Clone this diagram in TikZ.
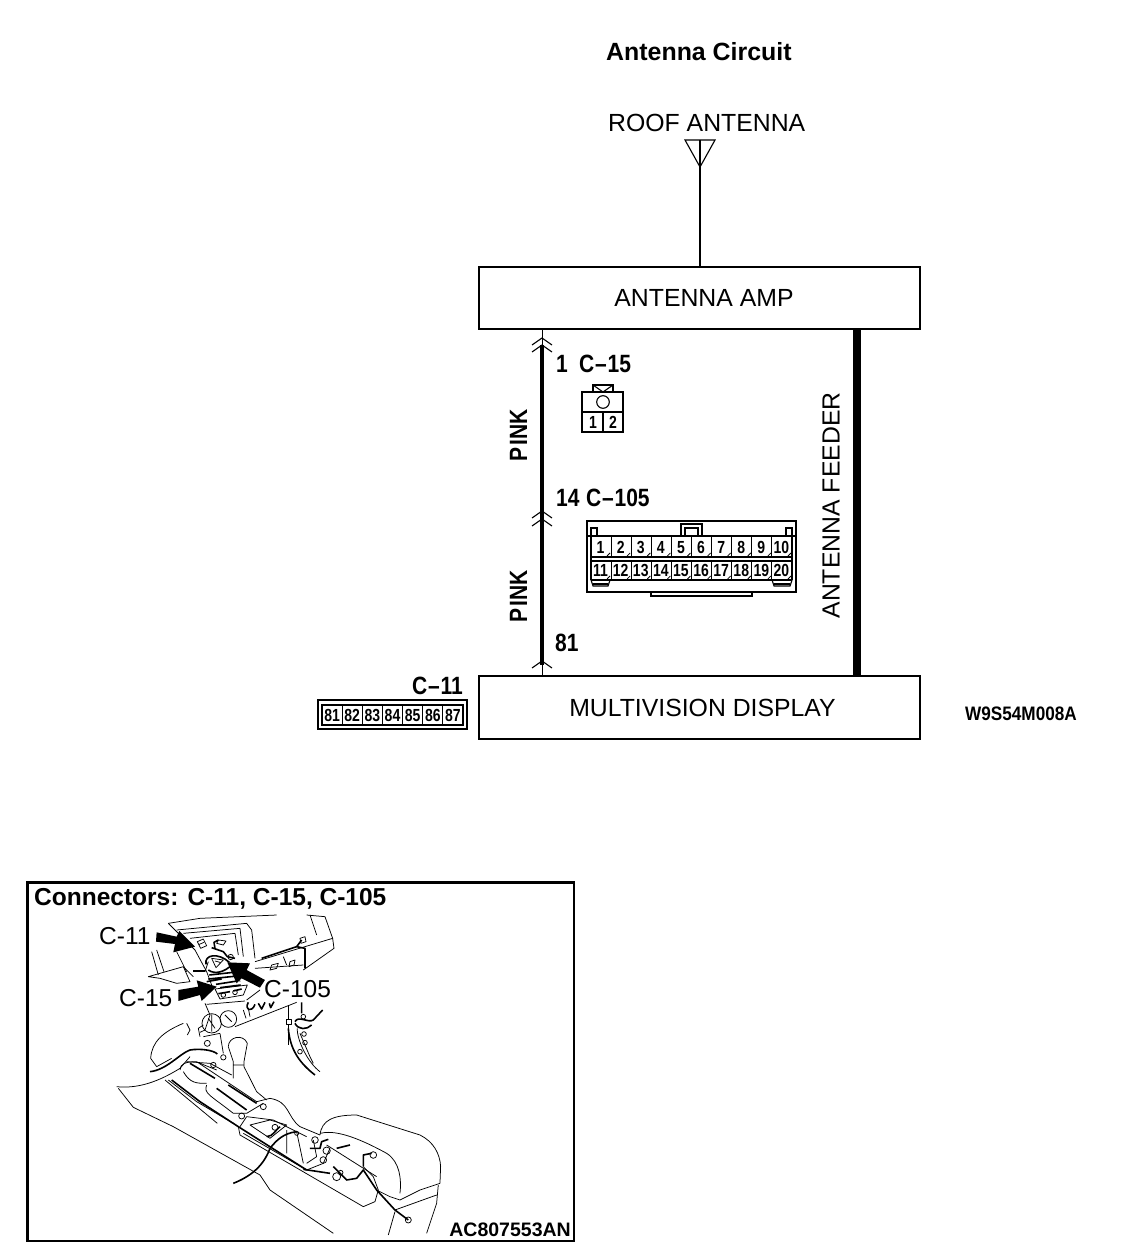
\documentclass[tikz,border=0pt]{standalone}
\usepackage{fontspec}
\setmainfont{Liberation Sans}
\newfontfamily\nf[FakeStretch=0.8]{Liberation Sans Bold}
\newfontfamily\lf[FakeStretch=0.84]{Liberation Sans Bold}
\newfontfamily\cf[FakeStretch=0.88]{Liberation Sans Bold}
\newcommand{\dsh}{\hspace{.8pt}–\hspace{.8pt}}
\tikzset{
  box/.style={draw,line width=1.2pt,fill=white,inner sep=0pt},
  plaintxt/.style={inner sep=0pt,font=\fontsize{24.8}{25}\selectfont},
  lab/.style={inner sep=0pt,anchor=base west,font=\fontsize{25}{25}\selectfont\lf},
  plain/.style={inner sep=0pt,anchor=base west,font=\fontsize{24.8}{25}\selectfont},
  pin/.style={inner sep=0pt,anchor=base,font=\fontsize{17.5}{17.5}\selectfont\nf},
  ttl/.style={inner sep=0pt,anchor=base west,font=\fontsize{24.5}{24.5}\selectfont\bfseries},
  cal/.style={inner sep=0pt,anchor=base west,font=\fontsize{24.5}{24.5}\selectfont},
  sk/.style={line width=.75pt,line join=round},
  skb/.style={line width=1.6pt,line join=round},
  chev/.style={line width=1.1pt},
  conn/.style={line width=1.1pt}
}
\begin{document}
\begin{tikzpicture}[x=1pt,y=-1pt]
\useasboundingbox (0,0) rectangle (1136,1260);
\fill[white] (0,0) rectangle (1136,1260);
% titles
\node[ttl] (title) at (606,61) {\fontsize{24.9}{24.9}\selectfont Antenna Circuit};
\node[plain] (roof) at (608,132) {ROOF ANTENNA};
% boxes
\node[box,minimum width=441pt,minimum height=62pt] (amp) at (699.5,298) {};
\node[plaintxt] (amptxt) at (704,298) {ANTENNA AMP};
\node[box,minimum width=441pt,minimum height=63pt] (disp) at (699.5,707.5) {};
\node[plaintxt] (disptxt) at (702.5,708) {MULTIVISION DISPLAY};
% antenna
\coordinate (apex) at (700,167);
\coordinate (ampin) at (700,267);
\draw[line width=1.1pt] (685,140) -- (715,140) -- (apex) -- cycle;
\draw[line width=1.2pt] (700,140) -- (apex) -- (ampin);
% wires
\coordinate (pinkT) at (542,329);
\coordinate (pinkA) at (542,345);
\coordinate (pinkB) at (542,665);
\coordinate (pinkD) at (542,676);
\coordinate (feedT) at (857,329);
\coordinate (feedD) at (857,676);
\draw[line width=1pt] (pinkT) -- (pinkD);
\draw[line width=4pt] (pinkA) -- (pinkB);
\draw[line width=8pt] (feedT) -- (feedD);
\foreach \y in {345,352,518,526,668}{
  \draw[chev] (532,\y) -- (542,\y-7) -- (552,\y);
}
% labels
\node[lab] (n1) at (556,372) {1};
\node[lab] (c15) at (579,372) {C\dsh 15};
\node[lab] (n14) at (556,506) {14};
\node[lab] (c105) at (586,506) {C\dsh 105};
\node[lab] (n81) at (555,651) {81};
\node[lab] (c11) at (412,694) {C\dsh 11};
\node[lab,rotate=90] (pink1) at (527,462) {P\hspace{2pt}INK};
\node[lab,rotate=90] (pink2) at (527,623) {P\hspace{2pt}INK};
\node[plaintxt,rotate=90] (feeder) at (831,505.5) {ANTENNA FEEDER};
\node[inner sep=0pt,anchor=base west,font=\fontsize{19.5}{19.5}\selectfont\cf] (code) at (965,720) {W9S54M008A};
% C-15 connector
\draw[conn] (593,392) -- (593,385) -- (613,385) -- (613,392);
\draw[conn] (593,385) -- (603,392) -- (613,385);
\draw[line width=1.3pt] (582,392) rectangle (623,432);
\draw[conn] (582,412) -- (623,412) (603,412) -- (603,432);
\draw[conn] (603,402) circle (6.3);
\node[pin] (p151) at (593,428.5) {1};
\node[pin] (p152) at (613,428.5) {2};
% C-105 connector
\draw[conn] (587,521) rectangle (796,592);
\draw[conn] (651,592) -- (651,596) -- (752,596) -- (752,592);
\draw[conn] (681,536) -- (681,524) -- (702,524) -- (702,536) (685,536) -- (685,528) -- (698,528) -- (698,536);
\draw[conn] (591,536) rectangle (597,528) (786,536) rectangle (792,528);
\draw[conn] (587,536) -- (796,536);
\draw[conn] (591,536) -- (591,580) (792,536) -- (792,580);
\draw[conn] (591,557) -- (792,557);
\draw[conn] (591,561) -- (792,561);
\draw[conn] (591,580) -- (792,580);
\draw[conn] (591,580) -- (593,586) -- (608,586) -- (610,580);
\draw[conn] (772,580) -- (774,586) -- (790,586) -- (792,580);
\draw[line width=2pt] (593,584) -- (608,584) (774,584) -- (790,584);
\foreach \i in {1,...,9}{
  \pgfmathsetmacro\xx{591+20.1*\i}
  \draw[conn] (\xx,536) -- (\xx,557) (\xx,561) -- (\xx,580);
}
\foreach \i in {1,...,10}{
  \pgfmathsetmacro\xx{591+20.1*(\i-0.5)}
  \pgfmathtruncatemacro\jj{\i+10}
  \node[pin] (ra\i) at (\xx-.5,553) {\i};
  \node[pin] (rb\i) at (\xx-.5,576) {\jj};
  \draw[line width=.8pt] (\xx+6,556) -- (\xx+9,553) (\xx+6,579) -- (\xx+9,576);
}
% C-11 connector
\draw[conn] (318,700) rectangle (467,729);
\draw[conn] (322,705) rectangle (463,725);
\foreach \i in {1,...,6}{
  \pgfmathsetmacro\xx{322+20.15*\i}
  \draw[conn] (\xx,705) -- (\xx,725);
}
\foreach \i/\t in {1/81,2/82,3/83,4/84,5/85,6/86,7/87}{
  \pgfmathsetmacro\xx{322+20.15*(\i-0.5)}
  \node[pin] (s\i) at (\xx,721.5) {\t};
}
% illustration frame
\draw[line width=2.6pt] (27.5,882.5) rectangle (574,1241);
\node[ttl] (captitle) at (34,905) {Connectors: C-11, C-15, C-105};
\node[inner sep=0pt,anchor=base east,font=\fontsize{19.5}{19.5}\selectfont\bfseries] (ac) at (571,1236) {AC807553AN};
\node[cal] (l11) at (99,944) {C-11};
\node[cal] (l15) at (119,1006) {C-15};
\node[cal] (l105) at (264,997) {C-105};
% upper sketch
\begin{scope}[shift={(140,915)},x=.3333pt,y=-.3333pt]
% top dash strips
\draw[sk] (85,25) -- (180,10) -- (410,0);
\draw[sk] (85,25) -- (120,60) -- (165,105) -- (200,170) -- (215,210);
\draw[sk] (110,45) -- (320,25) -- (335,45) -- (345,130);
\draw[sk] (130,55) -- (300,40) -- (310,125);
\draw[sk] (150,70) -- (285,55) -- (295,120);
% right dash
\draw[sk] (500,0) -- (555,5) -- (578,70) -- (582,100) -- (490,165);
\draw[sk] (510,0) -- (530,60);
\draw[sk] (345,140) -- (578,70);
\draw[sk] (345,160) -- (490,150);
\draw[skb] (365,130) -- (470,95) -- (485,75);
\draw[skb] (470,95) -- (495,100) -- (495,160);
\draw[sk] (480,70) -- (495,65) -- (498,80) -- (483,85) -- cycle;
\draw[sk] (395,150) -- (415,145) -- (410,160) -- (390,165) -- cycle (450,140) -- (465,135) -- (462,150) -- (447,155) -- cycle;
\draw[sk] (430,125) -- (440,150);
% left vent
\draw[sk] (35,110) -- (55,180) (50,105) -- (72,170) (110,110) -- (140,170);
\draw[sk] (25,185) -- (130,155) -- (150,200) -- (110,205) -- (60,190) -- cycle;
\draw[sk] (130,155) -- (160,185);
\draw[skb] (160,168) -- (195,168);
% central cluster
\draw[sk] (172,80) -- (190,72) -- (200,92) -- (182,100) -- cycle (178,88) -- (192,82);
\draw[sk] (235,75) -- (258,78) -- (250,90) -- (230,85) -- cycle;
\draw[skb] (225,100) -- (222,82) -- (235,75) (215,98) -- (250,110) -- (262,125) -- (285,130);
\draw[skb] (198,148) .. controls (192,118) and (235,112) .. (268,142);
\draw[skb] (205,165) .. controls (225,180) and (255,170) .. (275,150);
\draw[sk] (215,130) -- (250,135) -- (228,158) -- cycle (225,138) -- (240,142);
\draw[sk] (272,126) circle (8);
\draw[skb] (208,180) -- (280,172) (205,192) -- (292,183) (200,200) -- (245,192);
\draw[sk] (205,140) -- (195,170) (290,150) -- (300,200);
\draw[skb] (228,208) -- (292,198) (240,218) -- (302,210) (235,236) -- (270,230) (280,228) -- (305,222);
\draw[sk] (225,222) -- (322,210) -- (310,240) -- (240,252) -- cycle;
\draw[sk] (250,240) circle (7) (285,232) circle (7);
\draw[sk] (360,225) -- (320,255);
% lower console
\draw[sk] (195,265) -- (210,300) -- (195,345) -- (180,352);
\draw[sk] (200,268) -- (315,258);
\draw[sk] (285,335) -- (470,262);
\draw[sk] (215,325) circle (29) (265,312) circle (25);
\draw[sk] (205,310) -- (225,340) (255,300) -- (275,320) (215,298) -- (215,350);
\draw[skb] (325,262) .. controls (312,285) and (335,295) .. (345,268) (355,265) -- (365,282) -- (375,262) (388,265) -- (392,278) -- (402,260);
\draw[sk] (310,285) -- (318,310) (325,280) -- (330,305);
\draw[sk] (438,313) rectangle (453,328) (445,270) -- (445,313) (445,328) -- (445,390);
\draw[skb] (485,262) -- (485,295) (465,320) .. controls (475,300) and (505,325) .. (520,315) -- (548,285) (465,325) .. controls (475,345) and (500,345) .. (515,330);
\draw[sk] (490,305) circle (7);
\end{scope}
% lower sketch
\begin{scope}[shift={(100,1020)},x=.3333pt,y=-.3333pt]
% left blob
\draw[sk] (250,10) .. controls (190,35) and (155,65) .. (152,115) -- (170,140) -- (215,115);
\draw[sk] (260,10) -- (270,30) -- (262,45);
\draw[sk] (310,50) -- (360,40) (360,40) -- (370,100) (300,50) -- (295,25) -- (310,15);
\draw[sk] (322,70) circle (9) (370,112) circle (8);
\draw[skb] (150,155) .. controls (200,150) and (240,100) .. (270,90) .. controls (300,85) and (340,90) .. (352,102);
% right strand
\draw[skb] (565,25) .. controls (570,90) and (600,130) .. (645,165);
\draw[sk] (592,25) .. controls (590,60) and (625,130) .. (660,155) (600,40) -- (630,110) -- (640,130);
\draw[sk] (612,42) circle (7) (615,68) circle (7) (600,95) circle (7);
% gear stick
\draw[sk] (385,80) .. controls (385,50) and (430,40) .. (442,70) -- (432,125) -- (432,140) -- (470,215) -- (500,240);
\draw[sk] (385,80) -- (400,125) -- (400,175) (400,135) -- (432,135);
% dash to console
\draw[sk] (50,200) .. controls (100,205) and (160,195) .. (240,145) -- (270,110);
\draw[sk] (55,205) -- (100,262) -- (220,320) -- (480,465) -- (510,510) -- (700,640);
\draw[sk] (195,180) -- (352,310);
\draw[skb] (215,180) -- (300,245) -- (415,320) -- (620,450);
\draw[sk] (205,180) -- (290,245) -- (400,310);
\draw[sk] (240,150) .. controls (240,130) and (260,125) .. (290,125) -- (470,245) -- (510,235) .. controls (570,245) and (560,290) .. (600,320) -- (660,345);
\draw[sk] (250,155) .. controls (270,190) and (290,190) .. (320,190) (320,195) .. controls (310,220) and (330,225) .. (400,280) -- (440,280) -- (490,250);
\draw[skb] (270,130) -- (345,175) (385,195) -- (470,250);
\draw[skb] (350,205) -- (440,270);
\draw[sk] (260,125) -- (330,130) -- (395,165) (300,130) -- (350,150);
\draw[sk] (340,135) circle (8) (425,288) circle (9) (490,260) circle (9);
% centre tray
\draw[sk] (415,320) -- (420,345) -- (790,560) -- (825,545) -- (835,510) -- (820,470) -- (790,440);
\draw[sk] (420,320) -- (440,290) -- (520,300) -- (620,350);
\draw[sk] (450,315) -- (510,355) -- (560,315) -- (510,300) -- cycle;
\draw[sk] (430,340) -- (620,450) -- (670,430) -- (690,385);
\draw[sk] (560,330) -- (560,400) (590,335) -- (610,430);
\draw[sk] (620,430) -- (650,410) -- (640,360);
\draw[skb] (500,350) .. controls (520,350) and (530,325) .. (540,320);
\draw[sk] (525,322) circle (9) (590,340) circle (6) (645,360) circle (10) (680,392) circle (11) (670,420) circle (10) (710,470) circle (12) (722,458) circle (7);
\draw[skb] (400,490) .. controls (450,470) and (490,440) .. (510,385) .. controls (530,360) and (550,340) .. (590,335);
\draw[skb] (630,385) -- (660,385) -- (665,365) -- (685,358) (710,385) -- (750,375);
\draw[skb] (610,448) -- (690,460) (700,440) -- (740,480) -- (770,475) -- (790,450) -- (830,510) -- (885,570) -- (925,600);
\draw[sk] (925,600) circle (9);
% armrest
\draw[sk] (660,345) .. controls (665,300) and (700,285) .. (770,285) -- (960,345) .. controls (1000,365) and (1020,400) .. (1022,440) -- (1020,490) -- (960,510) -- (900,540) -- (870,530) -- (830,510);
\draw[sk] (660,340) .. controls (700,330) and (760,345) .. (860,400) .. controls (900,425) and (905,480) .. (900,520);
\draw[sk] (680,375) -- (830,470);
\draw[skb] (790,440) -- (790,405) -- (815,400);
\draw[sk] (820,405) circle (10) (1015,495) -- (1010,550) -- (980,640) (885,575) -- (865,645) (885,570) -- (1010,525);
\end{scope}
% thick arrows
\begin{scope}[shift={(20,875)},x=.3333pt,y=-.3333pt]
\fill (410,172) -- (470,185) -- (478,168) -- (525,215) -- (460,232) -- (465,207) -- (408,200) -- cycle;
\fill (475,345) -- (535,335) -- (530,316) -- (590,335) -- (545,378) -- (540,360) -- (475,378) -- cycle;
\fill (622,262) -- (690,265) -- (680,285) -- (735,315) -- (720,338) -- (665,310) -- (650,325) -- cycle;
\end{scope}
\end{tikzpicture}
\end{document}
